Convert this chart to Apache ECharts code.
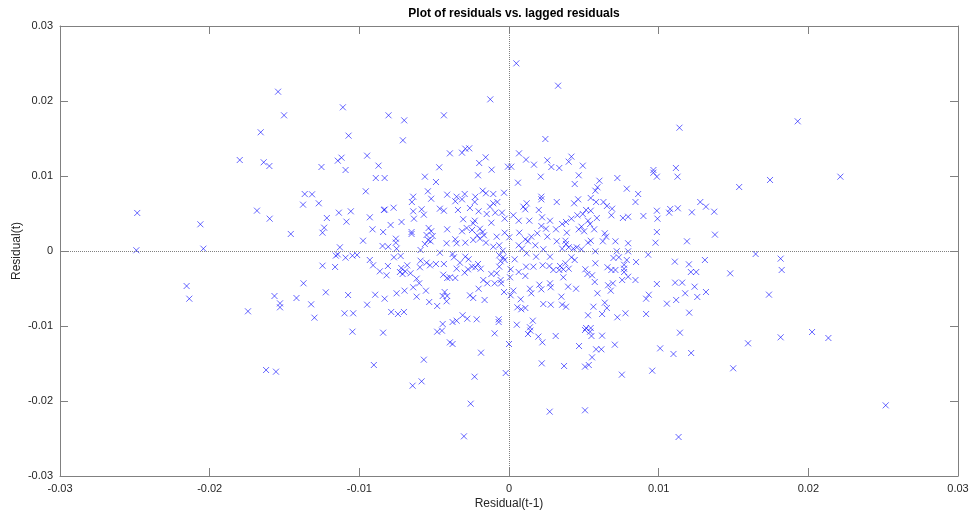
<!DOCTYPE html>
<html>
<head>
<meta charset="utf-8">
<title>Plot of residuals vs. lagged residuals</title>
<script src="https://cdn.jsdelivr.net/npm/echarts@6/dist/echarts.min.js"></script>
<style>
    html, body { margin: 0; padding: 0; background: #fff; }
    #chart { width: 971px; height: 512px; }
</style>
</head>
<body>
<div id="chart"></div>
<script>
// [residual(t-1), residual(t)]
let residualPairs = [
    [-0.01543, 0.02124], [-0.01503, 0.01809], [-0.01659, 0.01583], [-0.01799, 0.01213], [-0.01639, 0.01183], [-0.01601, 0.01133],
    [-0.0111, 0.01916], [-0.00805, 0.01809], [-0.007, 0.01742], [-0.00435, 0.01809], [-0.00125, 0.02022], [-0.01072, 0.01538],
    [-0.00709, 0.01476], [-0.01253, 0.0112], [-0.01144, 0.01204], [-0.01119, 0.01244], [-0.01092, 0.0108], [-0.00948, 0.01271],
    [-0.00872, 0.01138], [-0.00466, 0.01116], [-0.00395, 0.01302], [-0.00314, 0.01311], [-0.00292, 0.01364], [-0.00266, 0.01369],
    [-0.00199, 0.01173], [-0.00156, 0.01249], [-0.00116, 0.01084], [-0.00007, 0.01124],
    [0.00049, 0.02502], [0.00328, 0.02204], [0.01139, 0.01644], [0.00243, 0.01493], [0.00067, 0.01302], [0.00114, 0.01218],
    [0.00167, 0.01151], [0.00256, 0.01209], [0.00283, 0.0112], [0.00336, 0.01107], [0.00399, 0.01191], [0.00417, 0.01258],
    [0.00493, 0.01138], [0.00015, 0.01124], [0.00965, 0.0108], [0.01115, 0.01107], [0.01929, 0.01729],
    [0.01126, 0.00991], [0.01538, 0.00853], [0.01744, 0.00947], [0.02214, 0.00991], [0.01278, 0.00653], [0.01316, 0.00591],
    [0.01371, 0.00524], [0.01077, 0.0056], [0.0107, 0.00511], [0.01128, 0.00569], [0.01222, 0.00516], [0.01376, 0.00218],
    [0.01189, 0.00129], [0.01648, -0.0004], [0.01815, -0.00102], [0.01822, -0.00253], [0.01108, -0.00142], [0.01202, -0.00178],
    [0.01309, -0.0012], [0.01215, -0.0028], [0.01251, -0.0028], [0.01478, -0.00298], [0.0111, -0.00422], [0.01157, -0.00422],
    [0.0124, -0.00476], [0.01177, -0.00564], [0.01316, -0.00547], [0.01258, -0.00613], [0.01117, -0.00653], [0.01055, -0.00702],
    [0.01737, -0.00582], [0.01204, -0.00822],
    [0.01142, -0.01089], [0.0101, -0.01298], [0.01099, -0.01373], [0.01217, -0.0136], [0.01597, -0.01231], [0.01815, -0.01151],
    [0.02025, -0.0108], [0.02134, -0.0116], [0.01498, -0.01564], [0.01133, -0.0248], [0.02517, -0.02058],
    [-0.00841, -0.01089], [-0.0048, -0.01076], [-0.00448, -0.01062], [-0.00395, -0.01218], [-0.00377, -0.0124], [-0.00096, -0.01098],
    [0.0, -0.0124], [-0.00187, -0.01356], [-0.00903, -0.0152], [-0.00569, -0.01449], [-0.00584, -0.01738], [-0.00644, -0.01796],
    [-0.0023, -0.01676], [-0.00022, -0.01627], [-0.00256, -0.02036], [-0.00301, -0.02471], [0.00127, -0.01107], [0.00143, -0.01062],
    [0.00196, -0.01142], [0.00223, -0.01218], [0.00312, -0.01133], [0.00468, -0.01267], [0.00508, -0.01053], [0.00542, -0.01076],
    [0.00551, -0.01133], [0.00622, -0.01129], [0.00582, -0.01311], [0.00617, -0.01311], [0.00555, -0.01418], [0.00707, -0.01249],
    [0.00219, -0.01498], [0.00368, -0.01533], [0.00508, -0.01542], [0.00533, -0.0152], [0.00754, -0.01649], [0.00957, -0.01596],
    [0.00272, -0.02142], [0.00508, -0.02124],
    [-0.01623, -0.01587], [-0.01557, -0.01609], [-0.01046, -0.01076],
    [-0.02484, 0.00507], [-0.0249, 0.0001], [-0.02062, 0.00356], [-0.02042, 0.00031], [-0.02154, -0.00467], [-0.02136, -0.00636],
    [-0.01744, -0.00804], [-0.01684, 0.00538], [-0.01599, 0.00431], [-0.01458, 0.00227], [-0.01365, 0.0076], [-0.01316, 0.00756],
    [-0.01376, 0.00618], [-0.01271, 0.00636], [-0.01217, 0.0044], [-0.01137, 0.00511], [-0.01057, 0.00529], [-0.01086, 0.00391],
    [-0.01235, 0.00311], [-0.01246, 0.00244], [-0.0113, 0.00049], [-0.01157, -0.00062], [-0.01144, -0.00045], [-0.01092, -0.00089],
    [-0.01046, -0.00062], [-0.01015, -0.00053], [-0.01246, -0.00196], [-0.01162, -0.00213], [-0.01373, -0.00431], [-0.01224, -0.00551],
    [-0.01075, -0.00587], [-0.01567, -0.006], [-0.0153, -0.00698], [-0.0153, -0.00751], [-0.0142, -0.00627], [-0.01322, -0.00711],
    [-0.013, -0.00889], [-0.01099, -0.00831], [-0.01041, -0.00831],
    [-0.0089, 0.00973], [-0.00831, 0.00973], [-0.00562, 0.00991], [-0.00488, 0.0092], [-0.00957, 0.00796], [-0.00542, 0.00796],
    [-0.0064, 0.00724], [-0.0052, 0.00697], [-0.00649, 0.00653], [-0.00413, 0.00751], [-0.0035, 0.00724], [-0.00359, 0.00663],
    [-0.00836, 0.00547], [-0.0083, 0.00553], [-0.00771, 0.00577], [-0.0064, 0.00529], [-0.00584, 0.00556], [-0.00569, 0.00484],
    [-0.00635, 0.00431], [-0.00462, 0.00564], [-0.00435, 0.00537], [-0.0093, 0.00449], [-0.00718, 0.00387], [-0.00791, 0.00347],
    [-0.00341, 0.00547], [-0.00912, 0.00289], [-0.00841, 0.00253], [-0.00651, 0.00253], [-0.00651, 0.00227], [-0.00537, 0.00307],
    [-0.0052, 0.00263], [-0.00551, 0.00213], [-0.0051, 0.002], [-0.0054, 0.00147], [-0.00524, 0.00129], [-0.00562, 0.00093],
    [-0.00413, 0.00289], [-0.00975, 0.00137], [-0.00756, 0.00164], [-0.00756, 0.00111], [-0.00845, 0.00067], [-0.00807, 0.00057],
    [-0.00751, 0.00031], [-0.00591, 0.00013], [-0.00417, 0.00103], [-0.00359, 0.00156], [-0.0035, 0.00103], [-0.00462, -0.00023],
    [-0.00377, -0.0004], [-0.00368, -0.00084], [-0.00769, -0.00084], [-0.00724, -0.00067], [-0.0093, -0.0012], [-0.00908, -0.00191],
    [-0.00591, -0.00129], [-0.00551, -0.00156], [-0.00528, -0.00191], [-0.00488, -0.00173], [-0.00435, -0.00173], [-0.00595, -0.00217],
    [-0.0072, -0.00227], [-0.0068, -0.00191], [-0.00863, -0.00271], [-0.00809, -0.002], [-0.00818, -0.00324], [-0.00729, -0.0028],
    [-0.00694, -0.00271], [-0.00711, -0.00307], [-0.00658, -0.00297], [-0.00617, -0.00369], [-0.0035, -0.00236], [-0.00439, -0.00316],
    [-0.00413, -0.0036], [-0.00395, -0.00351], [-0.00359, -0.0036], [-0.006, -0.00431], [-0.0064, -0.00484], [-0.00555, -0.00529],
    [-0.0043, -0.00547], [-0.00413, -0.006], [-0.00443, -0.006], [-0.00894, -0.00583], [-0.00831, -0.00636], [-0.00751, -0.00564],
    [-0.00698, -0.00529], [-0.00617, -0.00609], [-0.00533, -0.0068], [-0.0048, -0.00733], [-0.00417, -0.00671], [-0.00948, -0.00716],
    [-0.00787, -0.00813], [-0.00742, -0.0084], [-0.00702, -0.00813], [-0.00443, -0.00973], [-0.00377, -0.00947], [-0.0035, -0.00929],
    [-0.00207, 0.01009], [0.0006, 0.00911], [0.00212, 0.00991], [-0.00296, 0.0076], [-0.00314, 0.00689], [-0.00176, 0.00804],
    [-0.00154, 0.00769], [-0.00225, 0.00724], [-0.00105, 0.0076], [-0.00033, 0.00777], [-0.00229, 0.00653], [-0.00105, 0.00636],
    [-0.00078, 0.00653], [-0.00127, 0.00591], [0.00216, 0.00724], [0.00216, 0.00689], [0.00118, 0.00636], [0.00096, 0.00591],
    [0.00109, 0.00556], [0.00199, 0.00547], [0.00319, 0.00653], [-0.00261, 0.00573], [-0.00203, 0.00529], [-0.00149, 0.00493],
    [-0.00092, 0.00511], [-0.00047, 0.00511], [-0.00029, 0.00431], [0.00029, 0.00476], [0.00065, 0.00404], [0.00136, 0.00404],
    [0.00221, 0.00449], [0.00274, 0.00404], [-0.00306, 0.00423], [-0.00229, 0.00404], [-0.00239, 0.00369], [-0.00118, 0.00377],
    [-0.00283, 0.00307], [-0.00314, 0.00263], [-0.00247, 0.0028], [-0.00194, 0.00297], [-0.00176, 0.00253], [-0.00212, 0.00209],
    [-0.00167, 0.00209], [-0.00194, 0.00164], [-0.00239, 0.00147], [-0.00292, 0.00111], [-0.00154, 0.00111], [-0.00082, 0.00191],
    [-0.00029, 0.00244], [0.00002, 0.00183], [0.00069, 0.00244], [0.00109, 0.00156], [0.00127, 0.00129], [0.00149, 0.00191],
    [0.00189, 0.00236], [0.00216, 0.00333], [0.00247, 0.00297], [0.00256, 0.00191], [0.00314, 0.00289], [0.00319, 0.00129],
    [0.00065, 0.00076], [0.00087, 0.00031], [-0.00105, 0.00057], [-0.00065, 0.00076], [-0.00042, 0.00004], [0.00176, 0.00076],
    [0.00229, 0.00023], [-0.00292, -0.00076], [-0.0027, -0.00111], [-0.00065, -0.00057], [-0.00038, -0.00084], [0.00038, -0.00111],
    [0.00118, -0.00031], [0.00181, -0.00076], [0.00274, -0.00076], [-0.00328, -0.00156], [-0.00056, -0.00137], [-0.00029, -0.0012],
    [-0.00207, -0.00173], [-0.00247, -0.00209], [-0.00225, -0.00217], [-0.00189, -0.00236], [-0.00274, -0.00244], [-0.00296, -0.00289],
    [-0.00065, -0.00209], [0.00011, -0.00244], [0.00114, -0.00209], [0.00163, -0.00209], [0.00225, -0.00191], [0.0027, -0.002],
    [0.00296, -0.00253], [0.00336, -0.00253], [-0.00082, -0.00297], [-0.00118, -0.00307], [0.00065, -0.0028], [0.00109, -0.00333],
    [0.00007, -0.00351], [-0.00056, -0.00387], [-0.00172, -0.00387], [-0.00145, -0.00431], [-0.00096, -0.00431], [-0.00052, -0.00431],
    [0.00203, -0.00449], [0.00274, -0.00431], [-0.00203, -0.00503], [-0.00033, -0.00547], [0.00029, -0.00529], [0.0014, -0.00503],
    [0.00216, -0.00511], [0.00279, -0.00484], [-0.00261, -0.00591], [-0.00239, -0.00627], [-0.00163, -0.00653], [0.00011, -0.00591],
    [0.00078, -0.00644], [0.00149, -0.00564], [0.00229, -0.00707], [0.00279, -0.00716], [0.00056, -0.00751], [0.00082, -0.00777],
    [0.00109, -0.0076], [-0.0031, -0.00857], [-0.00279, -0.00903], [-0.00069, -0.00911], [0.00052, -0.00983], [0.0014, -0.01017],
    [0.00159, -0.00929], [-0.00216, -0.00911], [-0.00069, -0.00947],
    [0.00466, 0.01009], [0.00439, 0.00893], [0.00604, 0.00937], [0.00724, 0.00973], [0.00965, 0.01044], [0.00988, 0.00991],
    [0.00787, 0.00831], [0.00863, 0.0076], [0.00845, 0.00653], [0.00577, 0.00804], [0.00591, 0.00849], [0.00546, 0.00707],
    [0.00582, 0.00653], [0.00462, 0.00689], [0.00435, 0.00636], [0.00631, 0.00653], [0.00654, 0.006], [0.00689, 0.00564],
    [0.00684, 0.00476], [0.00761, 0.0044], [0.00796, 0.00457], [0.00898, 0.00467], [0.00988, 0.00537], [0.00992, 0.00431],
    [0.00515, 0.00547], [0.00546, 0.00537], [0.00493, 0.00493], [0.00457, 0.00476], [0.00417, 0.00431], [0.00381, 0.00387],
    [0.00355, 0.0036], [0.00528, 0.00404], [0.00542, 0.0036], [0.00587, 0.0044], [0.00484, 0.00324], [0.00466, 0.00289],
    [0.00502, 0.00263], [0.00569, 0.00289], [0.00386, 0.00244], [0.0064, 0.00236], [0.00649, 0.00191], [0.00627, 0.00129],
    [0.00711, 0.00129], [0.00528, 0.00111], [0.00546, 0.00137], [0.00796, 0.00103], [0.00979, 0.00111], [0.00988, 0.00253],
    [0.00377, 0.00137], [0.00381, 0.00093], [0.00399, 0.00049], [0.0043, 0.00031], [0.00453, 0.00049], [0.00484, 0.00023],
    [0.00577, -0.00004], [0.00355, 0.00031], [0.0072, -0.00004], [0.00796, -0.00004], [0.00734, -0.00084], [0.0093, -0.00049],
    [0.00698, -0.00093], [0.00787, -0.0012], [0.00849, -0.00147], [0.00769, -0.00183], [0.00577, -0.00164], [0.00417, -0.00084],
    [0.00439, -0.0012], [0.00377, -0.00164], [0.00341, -0.002], [0.00363, -0.00244], [0.00399, -0.00236], [0.0051, -0.00244],
    [0.00658, -0.00217], [0.00684, -0.00253], [0.00711, -0.00253], [0.00769, -0.00236], [0.00769, -0.0028], [0.00524, -0.00307],
    [0.00555, -0.00324], [0.00363, -0.00351], [0.00796, -0.00343], [0.00756, -0.00387], [0.00845, -0.00387], [0.00573, -0.00413],
    [0.00662, -0.00457], [0.00694, -0.00431], [0.0068, -0.00529], [0.00988, -0.0044], [0.00395, -0.00476], [0.00448, -0.00503],
    [0.0035, -0.00609], [0.00591, -0.00564], [0.00934, -0.00583], [0.00916, -0.00636], [0.00355, -0.00716], [0.00381, -0.00743],
    [0.00564, -0.00743], [0.0064, -0.00689], [0.00654, -0.0076], [0.00622, -0.0084], [0.00528, -0.00857], [0.00778, -0.00831],
    [0.00724, -0.00884], [0.00916, -0.0084], [0.00515, -0.01027], [0.00546, -0.01027]
];

let xTickLabels = ['-0.03', '-0.02', '-0.01', '0', '0.01', '0.02', '0.03'];
let yTickLabels = ['-0.03', '-0.02', '-0.01', '0', '0.01', '0.02', '0.03'];

let boxColor = '#808080';
let textColor = '#262626';

// one side of the matlab-style box
function sideAxis(position, labels, extra) {
    let axis = {
        type: 'value',
        position: position,
        min: -0.03,
        max: 0.03,
        interval: 0.01,
        axisLine: { show: true, onZero: false, lineStyle: { color: boxColor, width: 1 } },
        axisTick: { show: true, inside: true, length: 8, lineStyle: { color: boxColor } },
        axisLabel: {
            show: !!labels,
            color: textColor,
            fontSize: 11,
            margin: 7,
            formatter: function (v) {
                return labels ? labels[Math.round((v + 0.03) / 0.01)] : '';
            }
        },
        splitLine: { show: false }
    };
    return Object.assign(axis, extra || {});
}

let chart = echarts.init(document.getElementById('chart'));

let option = {
    animation: false,
    backgroundColor: '#fff',
    textStyle: { fontFamily: 'Liberation Sans, Arial, sans-serif' },
    title: {
        text: 'Plot of residuals vs. lagged residuals',
        left: 509,
        top: 3,
        textAlign: 'center',
        textStyle: { fontSize: 12, fontWeight: 'bold', color: '#000' }
    },
    grid: { left: 60, right: 13, top: 26, bottom: 36, outerBoundsMode: 'none' },
    xAxis: [
        sideAxis('bottom', xTickLabels, {
            name: 'Residual(t-1)',
            nameLocation: 'middle',
            nameGap: 22,
            nameMoveOverlap: false,
            nameTextStyle: { color: textColor, fontSize: 12 }
        }),
        sideAxis('top', null)
    ],
    yAxis: [
        sideAxis('left', yTickLabels, {
            name: 'Residual(t)',
            nameLocation: 'middle',
            nameGap: 37,
            nameMoveOverlap: false,
            nameTextStyle: { color: textColor, fontSize: 12 }
        }),
        sideAxis('right', null)
    ],
    series: [{
        type: 'scatter',
        xAxisIndex: 0,
        yAxisIndex: 0,
        data: residualPairs,
        symbol: 'path://M0,0L10,10M10,0L0,10',
        symbolSize: 6,
        itemStyle: { color: 'rgba(0,0,0,0)', borderColor: 'rgba(0,0,255,0.75)', borderWidth: 1 },
        markLine: {
            silent: true,
            symbol: 'none',
            label: { show: false },
            lineStyle: { type: 'dotted', color: '#808080', width: 1 },
            data: [{ xAxis: 0 }, { yAxis: 0 }]
        }
    }]
};

chart.setOption(option);
</script>
</body>
</html>
